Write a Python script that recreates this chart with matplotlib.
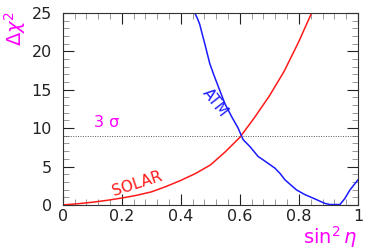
import matplotlib
matplotlib.use("Agg")
import matplotlib.pyplot as plt
from matplotlib.ticker import MultipleLocator

# solar curve (red)
solar_x = [0.0, 0.05, 0.1, 0.15, 0.2, 0.25, 0.3, 0.35, 0.4, 0.45, 0.5, 0.55, 0.6, 0.65, 0.7, 0.75, 0.8, 0.843]
solar_y = [0.0, 0.15, 0.35, 0.6, 0.9, 1.25, 1.7, 2.4, 3.2, 4.1, 5.2, 6.9, 8.8, 11.4, 14.2, 17.4, 21.3, 25.0]

# atmospheric curve (blue)
atm_x = [0.447, 0.456, 0.464, 0.472, 0.481, 0.498, 0.512, 0.527, 0.549, 0.572, 0.594, 0.611, 0.634, 0.662, 0.679,
         0.700, 0.719, 0.736, 0.753, 0.792, 0.820, 0.849, 0.888, 0.905, 0.939, 0.955, 0.973, 1.0]
atm_y = [25.0, 24.3, 23.5, 22.3, 21.0, 18.4, 16.9, 15.4, 13.2, 11.5, 10.0, 8.5, 7.6, 6.3, 5.86,
         5.3, 4.78, 4.1, 3.26, 1.95, 1.35, 0.87, 0.2, 0.05, 0.05, 0.8, 1.95, 3.26]

sigma3 = 9.0

fig = plt.figure(figsize=(3.74, 2.49), dpi=100)
ax = fig.add_axes([0.168, 0.177, 0.789, 0.771])

ax.plot(solar_x, solar_y, color="#ff1a1a", lw=1.1)
ax.plot(atm_x, atm_y, color="#1a1aff", lw=1.1)
ax.axhline(sigma3, color="#555555", lw=0.7, ls=(0, (1, 1.5)))

ax.text(0.15, 10.7, "3 σ", color="magenta", fontsize=11.5, ha="center", va="center")
ax.text(0.253, 2.7, "SOLAR", color="#ff1a1a", fontsize=11, rotation=18, ha="center", va="center")
ax.text(0.515, 13.3, "ATM", color="#1a1aff", fontsize=11, rotation=-52, ha="center", va="center")

ax.set_xlim(0, 1)
ax.set_ylim(0, 25)
ax.xaxis.set_major_locator(MultipleLocator(0.2))
ax.xaxis.set_minor_locator(MultipleLocator(0.04))
ax.yaxis.set_major_locator(MultipleLocator(5))
ax.yaxis.set_minor_locator(MultipleLocator(1))
ax.set_xticks([0, 0.2, 0.4, 0.6, 0.8, 1.0])
ax.set_xticklabels(["0", "0.2", "0.4", "0.6", "0.8", "1"])

ax.tick_params(which="both", direction="in", top=True, right=True, color="#666666")
ax.tick_params(which="major", length=8, width=0.8, labelsize=11.5, colors="#222222")
ax.tick_params(which="minor", length=4, width=0.6, color="#888888")
ax.tick_params(axis="y", which="major", pad=8)
ax.tick_params(axis="x", which="major", pad=3)
for s in ax.spines.values():
    s.set_color("#333333")
    s.set_linewidth(0.8)

fig.text(0.04, 0.885, "$\\Delta\\chi^2$", color="magenta", fontsize=14, rotation=90,
         ha="center", va="center")
fig.text(0.882, 0.05, "$\\sin^2\\eta$", color="magenta", fontsize=14, ha="center", va="center")

fig.savefig("out.png", dpi=100)
